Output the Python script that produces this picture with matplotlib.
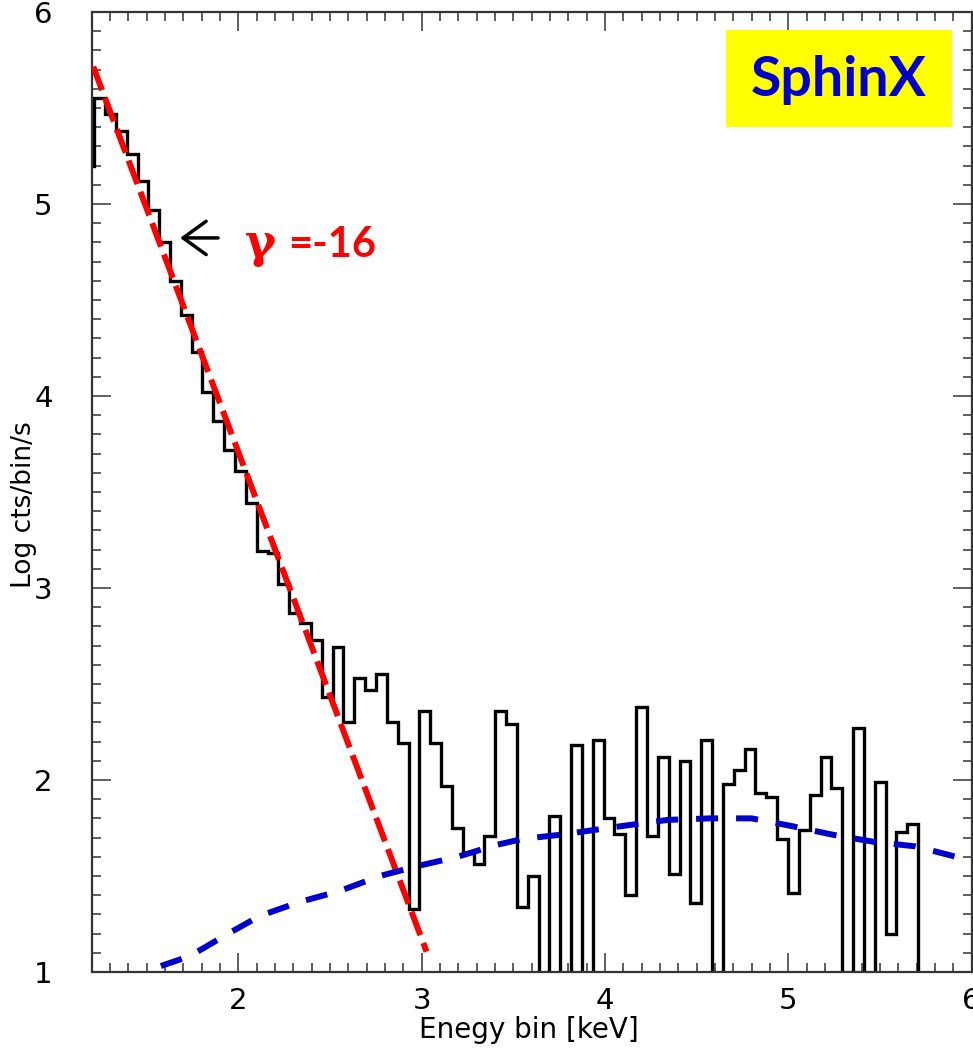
# -*- coding: utf-8 -*-
"""
SphinX spectrum: log counts per bin vs energy, with power-law fit
"""

import numpy as np
import matplotlib
matplotlib.use('Agg')
import matplotlib.pyplot as plt
from matplotlib.ticker import MultipleLocator
from matplotlib.patches import Rectangle

#%% data
# bin edges [keV]
energy_edges = [1.155, 1.214, 1.273, 1.332, 1.391, 1.451, 1.510, 1.569, 1.628, 1.687,
                1.746, 1.805, 1.864, 1.924, 1.983, 2.042, 2.101, 2.160, 2.219, 2.278,
                2.337, 2.397, 2.456, 2.515, 2.574, 2.633, 2.692, 2.751, 2.811, 2.870,
                2.929, 2.988, 3.047, 3.106, 3.165, 3.224, 3.284, 3.343, 3.402, 3.461,
                3.520, 3.579, 3.638, 3.697, 3.757, 3.816, 3.875, 3.934, 3.993, 4.052,
                4.111, 4.171, 4.230, 4.289, 4.348, 4.407, 4.466, 4.525, 4.584, 4.644,
                4.703, 4.762, 4.821, 4.880, 4.939, 4.998, 5.057, 5.117, 5.176, 5.235,
                5.294, 5.353, 5.412, 5.471, 5.531, 5.590, 5.649, 5.708, 5.767]

# log counts/bin/s (0 = empty bin, below the plot)
log_counts = [5.20, 5.55, 5.47, 5.38, 5.26, 5.12, 4.97, 4.80, 4.60, 4.42,
              4.23, 4.02, 3.87, 3.72, 3.61, 3.44, 3.19, 3.18, 3.02, 2.87,
              2.82, 2.73, 2.43, 2.69, 2.30, 2.53, 2.47, 2.55, 2.30, 2.19,
              1.33, 2.36, 2.19, 1.97, 1.75, 1.62, 1.56, 1.71, 2.36, 2.29,
              1.34, 1.50, 0.00, 1.81, 0.00, 2.18, 0.00, 2.21, 1.80, 1.72,
              1.40, 2.38, 1.71, 2.12, 1.51, 2.10, 1.36, 2.21, 0.00, 1.98,
              2.05, 2.16, 1.93, 1.91, 1.69, 1.41, 1.74, 1.92, 2.12, 1.96,
              0.00, 2.27, 0.00, 1.99, 1.20, 1.73, 1.77, 0.00]

# power-law fit (red dashed)
fit_E = [1.209, 3.027]
fit_logc = [5.715, 1.106]

# background (blue dashed)
bkg_E = [1.578, 1.737, 1.933, 2.118, 2.336, 2.554, 2.773, 2.980, 3.193, 3.405,
         3.552, 3.770, 4.054, 4.343, 4.572, 4.800, 5.018, 5.247, 5.471, 5.695, 5.918]
bkg_logc = [1.031, 1.083, 1.193, 1.292, 1.365, 1.422, 1.500, 1.552, 1.599, 1.661,
            1.693, 1.716, 1.755, 1.792, 1.800, 1.800, 1.760, 1.714, 1.677, 1.654, 1.599]

#%% plotting
fig = plt.figure(figsize = (9.73, 10.55), dpi = 100)
ax = fig.add_axes([0.0941, 0.0787, 0.9045, 0.9100])

ax.stairs(log_counts, energy_edges, baseline = None, color = 'k', lw = 2.4, zorder = 2)

ax.plot(fit_E, fit_logc, color = '#ff0000', lw = 4.3, dashes = (4.2, 1.4),
        solid_capstyle = 'butt', dash_capstyle = 'butt', zorder = 3)
ax.plot(bkg_E, bkg_logc, color = '#0000cc', lw = 4.3, dashes = (3.7, 3.0), zorder = 3)

ax.set_xlim(1.2, 6.0)
ax.set_ylim(1, 6)
ax.set_xticks([2, 3, 4, 5, 6])
ax.set_yticks([1, 2, 3, 4, 5, 6])
ax.xaxis.set_minor_locator(MultipleLocator(0.1))
ax.yaxis.set_minor_locator(MultipleLocator(0.1))
ax.tick_params(which = 'both', direction = 'in', top = True, right = True,
               color = '#333333', width = 1.1)
ax.tick_params(which = 'major', length = 13.5, labelsize = 21)
ax.tick_params(which = 'minor', length = 6.5)
ax.tick_params(axis = 'x', pad = 11)
ax.tick_params(axis = 'y', pad = 28)
for sp in ax.spines.values():
    sp.set_linewidth(1.6)
    sp.set_color('#333333')

fig.text(24 / 973, 0.522, 'Log cts/bin/s', rotation = 90, ha = 'center', va = 'center', fontsize = 19)
fig.text(0.5437, 1 - 1030 / 1055, 'Enegy bin [keV]', ha = 'center', va = 'center', fontsize = 20)

# arrow + index label
ax.annotate('', xy = (1.683, 4.823), xytext = (1.89, 4.823),
            arrowprops = dict(arrowstyle = '->, head_length=0.83, head_width=0.6',
                              lw = 2.5, color = 'k', mutation_scale = 20,
                              shrinkA = 0, shrinkB = 0))
ax.text(2.036, 4.724, '\u03b3', color = '#ff0000', fontsize = 34, fontweight = 'bold',
        family = ['DejaVu Serif'], ha = 'left', va = 'baseline')
ax.text(2.271, 4.724, '=-16', color = '#ff0000', fontsize = 30, fontweight = 'bold',
        family = ['Lato', 'DejaVu Sans'], ha = 'left', va = 'baseline')

# instrument label box
ax.add_patch(Rectangle((0.7461, 0.8796), 0.2323, 0.0919, transform = fig.transFigure,
                       facecolor = '#ffff00', edgecolor = 'none', clip_on = False, zorder = 5))
ax.text(0.8623, 0.9242, 'SphinX', transform = fig.transFigure, color = '#0000cc',
        fontsize = 40, fontweight = 'bold', family = ['Lato', 'DejaVu Sans'],
        ha = 'center', va = 'center', zorder = 6)

plt.savefig('out.png', dpi = 100)
